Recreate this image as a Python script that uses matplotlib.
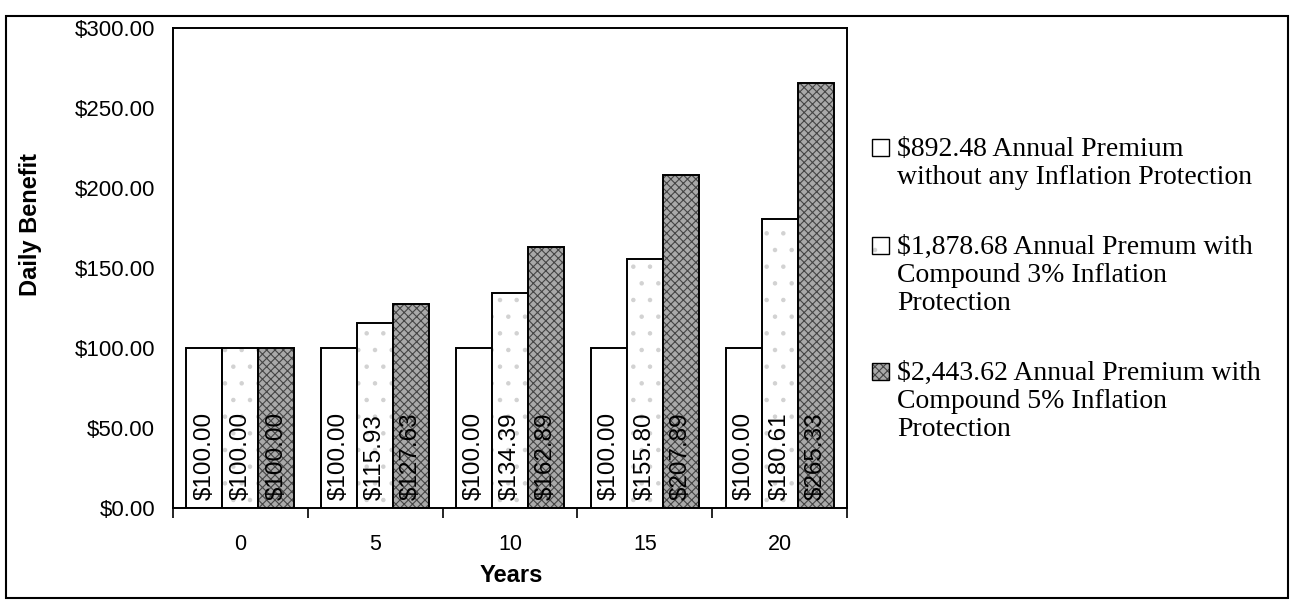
import numpy as np
import matplotlib
matplotlib.use('Agg')
import matplotlib.pyplot as plt
from matplotlib.patches import Rectangle

plt.rcParams['text.parse_math'] = False
plt.rcParams['font.family'] = ['Liberation Sans', 'DejaVu Sans']
plt.rcParams['hatch.linewidth'] = 0.8

# data
years = ['0', '5', '10', '15', '20']
no_inflation = [100.00, 100.00, 100.00, 100.00, 100.00]
compound_3 = [100.00, 115.93, 134.39, 155.80, 180.61]
compound_5 = [100.00, 127.63, 162.89, 207.89, 265.33]
series = [no_inflation, compound_3, compound_5]
legend_labels = [
    '$892.48 Annual Premium\nwithout any Inflation Protection',
    '$1,878.68 Annual Premum with\nCompound 3% Inflation\nProtection',
    '$2,443.62 Annual Premium with\nCompound 5% Inflation\nProtection',
]
y_ticks = [0, 50, 100, 150, 200, 250, 300]

# fill, hatch, hatch colour per series
styles = [('white', None, 'white'),
          ('white', '.', '#d2d2d2'),
          ('#a9a9a9', 'xxxx', '#454545')]

W, H = 1290, 605
fig = plt.figure(figsize=(W / 100, H / 100), dpi=100)


def fx(px):
    return px / W


def fy(py):
    return 1 - py / H


ax = fig.add_axes([fx(173), fy(508), fx(847) - fx(173), fy(28) - fy(508)])

x = np.arange(len(years))
bw = 0.267
for i, (vals, (fc, hatch, hc)) in enumerate(zip(series, styles)):
    pos = x + (i - 1) * bw
    ax.bar(pos, vals, bw, color=fc, hatch=hatch, edgecolor=hc, linewidth=0)
    ax.bar(pos, vals, bw, fill=False, edgecolor='black', linewidth=1.4)
    for p, v in zip(pos, vals):
        ax.text(p, 5, f'${v:,.2f}', rotation=90, ha='center', va='bottom',
                fontsize=17.5)

ax.set_xlim(-0.5, len(years) - 0.5)
ax.set_ylim(0, 300)
ax.set_xticks(x, labels=years)
ax.set_xticks(np.arange(-0.5, len(years), 1), minor=True)
ax.tick_params(axis='x', which='major', length=0, pad=19, labelsize=15.5)
ax.tick_params(axis='x', which='minor', length=7, width=1.2, direction='out')
ax.set_yticks(y_ticks, labels=[f'${v:,.2f}' for v in y_ticks])
ax.tick_params(axis='y', length=0, pad=13, labelsize=16)
for s in ax.spines.values():
    s.set_linewidth(1.4)

fig.text(fx(31), fy(225), 'Daily Benefit', rotation=90, ha='center',
         va='center', fontsize=17, fontweight='bold')
fig.text(fx(511), fy(575), 'Years', ha='center', va='center',
         fontsize=17, fontweight='bold')

# legend drawn by hand: marker sits on the first line of each entry
baseline = 156
line_h = 28
for label, (fc, hatch, hc) in zip(legend_labels, styles):
    lines = label.split('\n')
    fig.add_artist(Rectangle((fx(872), fy(baseline)), fx(889) - fx(872),
                             fy(baseline - 17) - fy(baseline),
                             transform=fig.transFigure, facecolor=fc,
                             hatch=hatch, edgecolor=hc, linewidth=0))
    fig.add_artist(Rectangle((fx(872), fy(baseline)), fx(889) - fx(872),
                             fy(baseline - 17) - fy(baseline),
                             transform=fig.transFigure, fill=False,
                             edgecolor='black', linewidth=1.0))
    for k, line in enumerate(lines):
        fig.text(fx(897), fy(baseline + k * line_h), line, ha='left',
                 va='baseline', fontsize=20,
                 family=['Liberation Serif', 'DejaVu Serif'])
    baseline += len(lines) * line_h + 42

# outer chart border
fig.add_artist(Rectangle((fx(6), fy(598)), fx(1288) - fx(6), fy(16) - fy(598),
                         transform=fig.transFigure, fill=False,
                         edgecolor='black', linewidth=1.5))

fig.savefig('out.png', dpi=100)
